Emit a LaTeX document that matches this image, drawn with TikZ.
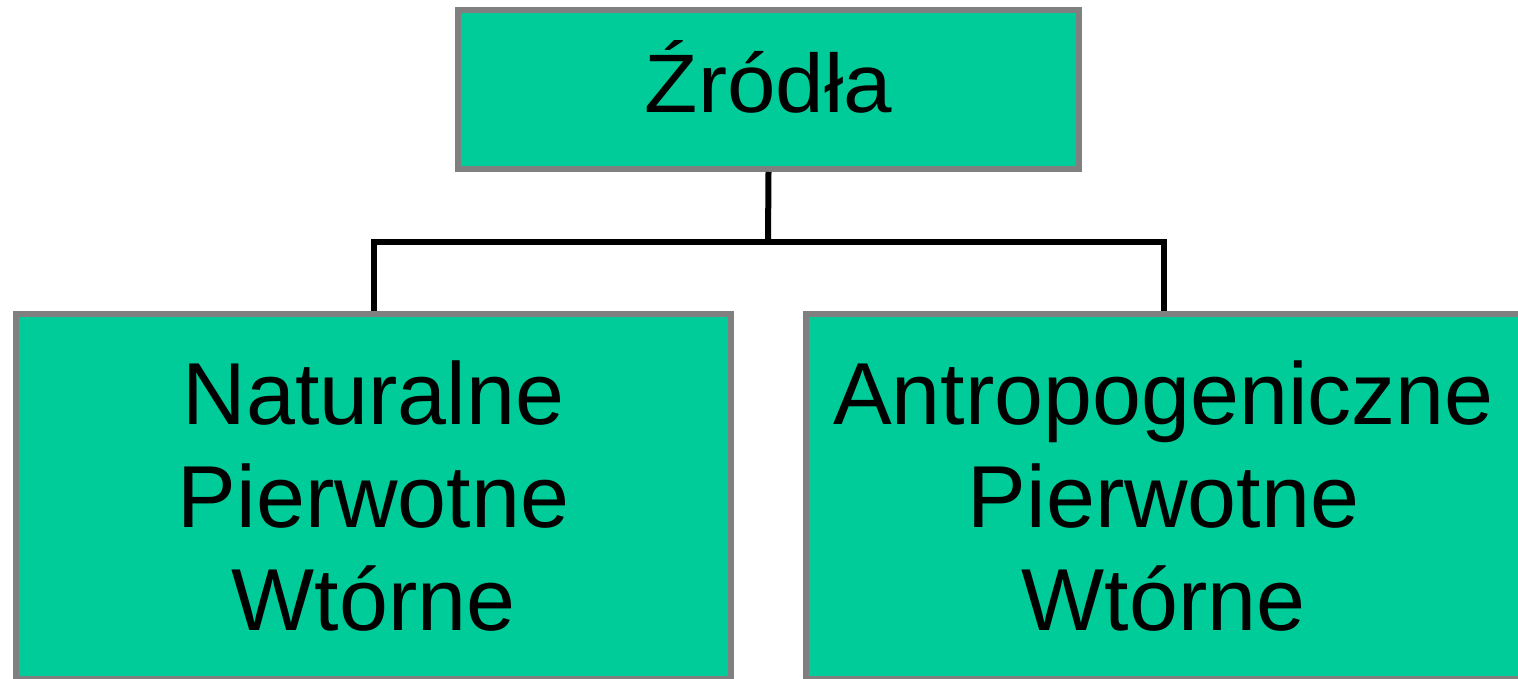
\documentclass[tikz,border=0pt]{standalone}
\usepackage{fontspec}
\setmainfont{Liberation Sans}
\newfontfamily\widesans[FakeStretch=1.05]{Liberation Sans}
\definecolor{boxgreen}{HTML}{00CC99}
\definecolor{boxgrey}{HTML}{808080}
\begin{document}
\begin{tikzpicture}[x=1pt,y=-1pt,
  box/.style={draw=boxgrey, fill=boxgreen, line width=6pt, inner sep=0pt,
    align=center},
  headbox/.style={box, minimum width=621pt, minimum height=159pt,
    font=\widesans\fontsize{83}{103}\selectfont, text height=59.4pt, text depth=12.4pt},
  kindbox/.style={box, minimum width=715pt, minimum height=365pt,
    font=\fontsize{88}{103}\selectfont},
  link/.style={draw=black, line width=6pt}]
  \useasboundingbox (0,0) rectangle (1518,679);
  \clip (0,0) rectangle (1518,679);
  % hierarchy: one source box over two kinds of sources
  \node[headbox] (top) at (768.5,89.5) {Źródła};
  \node[kindbox] (left) at (373.5,496.5) {Naturalne\\Pierwotne\\Wtórne};
  \node[kindbox] (right) at (1163.5,496.5) {Antropogeniczne\\Pierwotne\\Wtórne};
  % elbow connectors through a common bar
  \coordinate (bar) at (768,242);
  \draw[link] (top.south) -- (bar);
  \draw[link] (left.north) |- (bar -| right.north) -- (right.north);
\end{tikzpicture}
\end{document}
